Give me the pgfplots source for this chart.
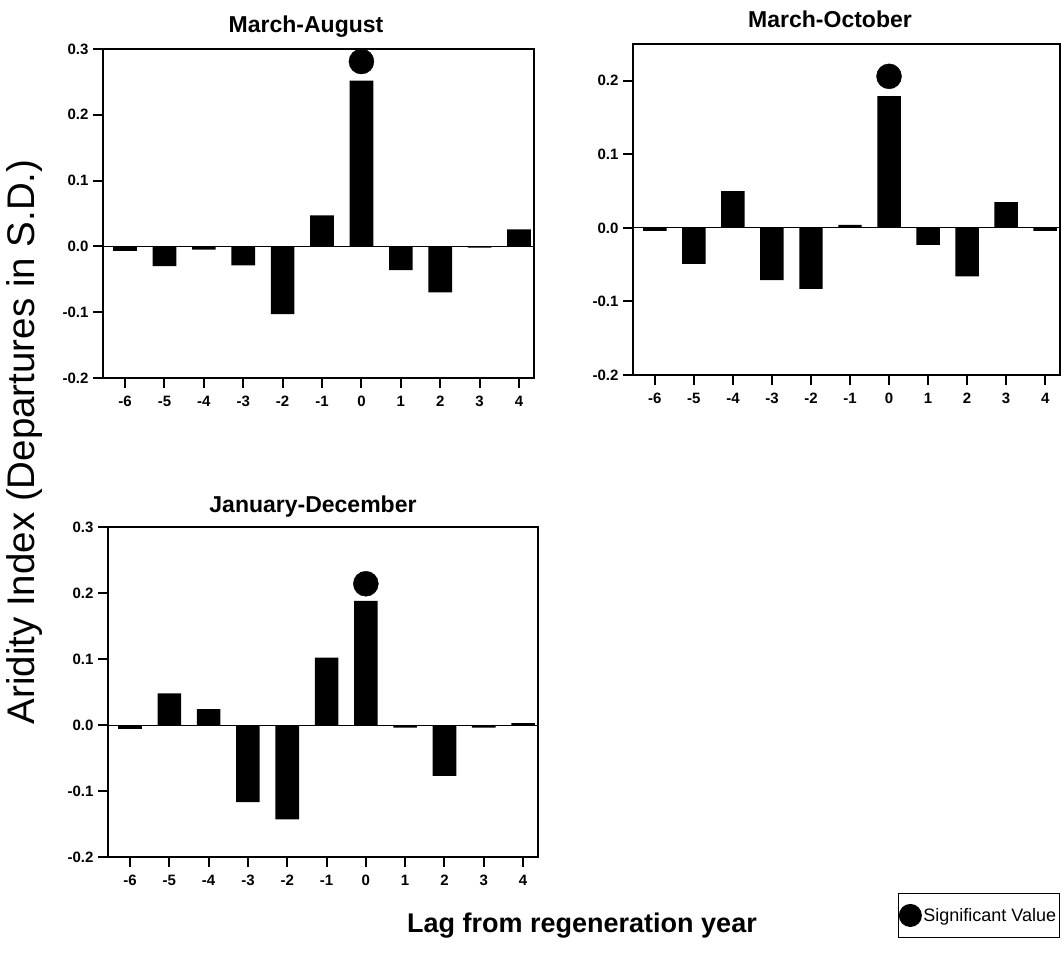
\documentclass[border=0pt]{standalone}
\usepackage{fontspec}
\setmainfont{Liberation Sans}
\usepackage{pgfplots}
\pgfplotsset{compat=1.18}
\pgfplotsset{panel/.style={
  scale only axis, anchor=south west, clip=false,
  xmin=-6.56, xmax=4.38,
  axis line style={line width=2bp},
  tick align=outside, xtick pos=bottom, ytick pos=left,
  major tick length=10bp,
  every tick/.style={black, line width=2bp},
  tick label style={font=\fontsize{15bp}{17bp}\selectfont\bfseries},
  xticklabel style={yshift=-5bp},
  yticklabel style={xshift=-1bp},
  xtick={-6,-5,-4,-3,-2,-1,0,1,2,3,4},
  xticklabels={-6,-5,-4,-3,-2,-1,0,1,2,3,4},
  extra y ticks={0}, extra y tick labels={},
  extra y tick style={grid=major, major grid style={black, line width=0.9bp}, major tick length=0pt},
}}
\begin{document}
\begin{tikzpicture}
\path[use as bounding box] (0,0) rectangle (1062bp,954bp);
% March-August
\begin{axis}[panel, at={(103bp,576bp)}, width=431bp, height=329bp,
  ymin=-0.2, ymax=0.3, ytick={-0.2,-0.1,0,0.1,0.2,0.3},
  yticklabels={-0.2,-0.1,0.0,0.1,0.2,0.3}]
\addplot[ybar, bar width=0.6, fill=black, draw=none] coordinates {
(-6,-0.007) (-5,-0.030) (-4,-0.005) (-3,-0.029) (-2,-0.103) (-1,0.047)
(0,0.252) (1,-0.036) (2,-0.070) (3,-0.002) (4,0.026)};
\addplot[only marks, mark=*, mark size=12.5bp, black] coordinates {(0,0.281)};
\end{axis}
% March-October
\begin{axis}[panel, at={(633bp,579bp)}, width=427bp, height=331bp,
  ymin=-0.2, ymax=0.25, ytick={-0.2,-0.1,0,0.1,0.2},
  yticklabels={-0.2,-0.1,0.0,0.1,0.2}]
\addplot[ybar, bar width=0.6, fill=black, draw=none] coordinates {
(-6,-0.004) (-5,-0.049) (-4,0.050) (-3,-0.071) (-2,-0.083) (-1,0.004)
(0,0.179) (1,-0.023) (2,-0.066) (3,0.035) (4,-0.004)};
\addplot[only marks, mark=*, mark size=12.5bp, black] coordinates {(0,0.206)};
\end{axis}
% January-December
\begin{axis}[panel, at={(108bp,97bp)}, width=430bp, height=330bp,
  ymin=-0.2, ymax=0.3, ytick={-0.2,-0.1,0,0.1,0.2,0.3},
  yticklabels={-0.2,-0.1,0.0,0.1,0.2,0.3},
  legend style={at={(2.213,-0.109)}, anchor=north east, draw=black, line width=1bp,
    font=\fontsize{18bp}{20bp}\selectfont, inner xsep=1bp, inner ysep=11bp},
  legend image code/.code={\draw[mark=*, mark size=11bp, black] plot coordinates {(0.35cm,0cm)};}]
\addplot[ybar, bar width=0.6, fill=black, draw=none, forget plot] coordinates {
(-6,-0.006) (-5,0.048) (-4,0.024) (-3,-0.117) (-2,-0.143) (-1,0.102)
(0,0.188) (1,-0.004) (2,-0.077) (3,-0.004) (4,0.003)};
\addplot[only marks, mark=*, mark size=12.5bp, black] coordinates {(0,0.214)};
\addlegendentry{Significant Value}
\end{axis}
% titles and labels
\node[anchor=base, font=\fontsize{23bp}{25bp}\selectfont\bfseries] at (306bp,921bp) {March-August};
\node[anchor=base, font=\fontsize{23bp}{25bp}\selectfont\bfseries] at (830bp,926bp) {March-October};
\node[anchor=base, font=\fontsize{23bp}{25bp}\selectfont\bfseries] at (313bp,441bp) {January-December};
\node[rotate=90, font=\fontsize{38.5bp}{41bp}\selectfont] at (25bp,512bp) {Aridity Index (Departures in S.D.)};
\node[anchor=base, font=\fontsize{27bp}{29bp}\selectfont\bfseries] at (582bp,22bp) {Lag from regeneration year};
\end{tikzpicture}
\end{document}
